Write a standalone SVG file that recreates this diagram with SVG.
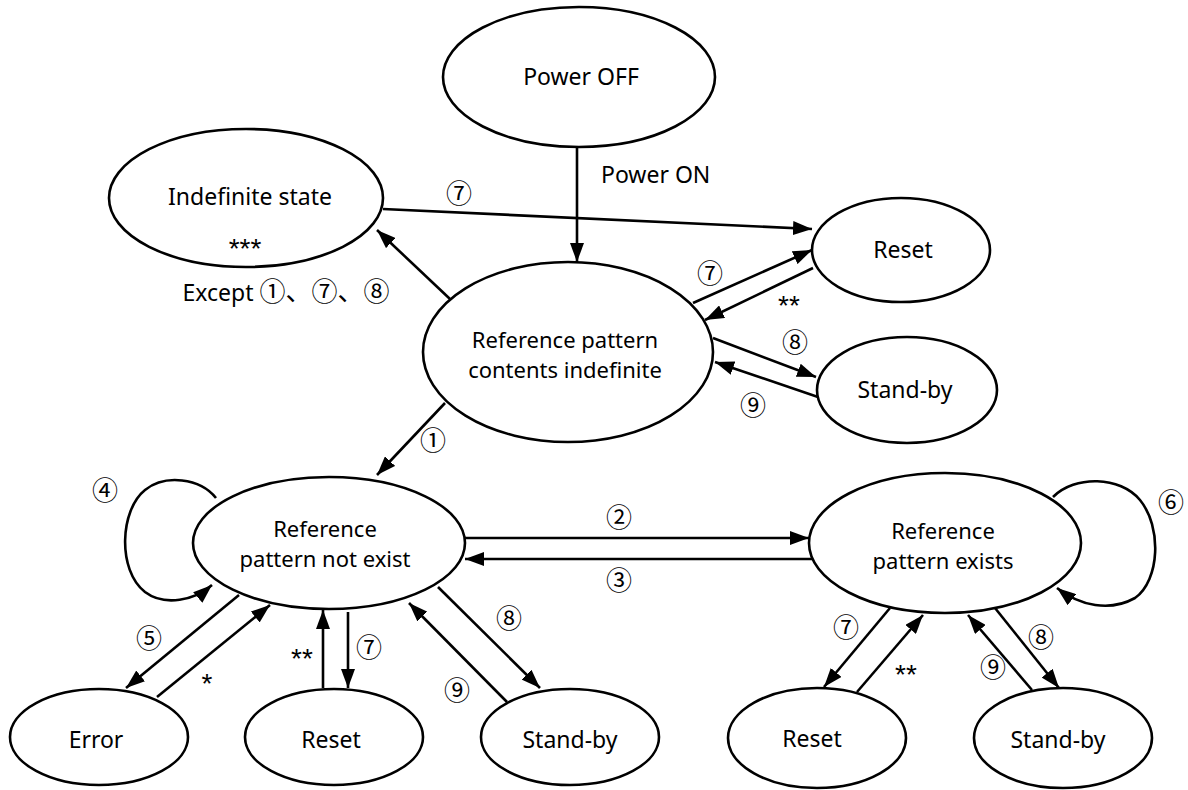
<svg xmlns="http://www.w3.org/2000/svg" width="1188" height="790" viewBox="0 0 1188 790">
  <style>
    .node { fill: #ffffff; stroke: #000000; stroke-width: 2.6; }
    .lbl { font-family: "Noto Sans", "Liberation Sans", "Noto Sans CJK JP", sans-serif; font-size: 23px; fill: #000; text-anchor: middle; }
    .two { font-size: 22px; }
    .edge { fill: none; stroke: #000; stroke-width: 2.6; marker-end: url(#head); }
    .num { font-family: "Noto Sans CJK JP", "DejaVu Sans", sans-serif; font-size: 26px; fill: #000; text-anchor: middle; }
    .star { font-family: "Liberation Sans", sans-serif; font-size: 28px; fill: #000; text-anchor: middle; }
  </style>
  <defs>
    <marker id="head" markerUnits="userSpaceOnUse" markerWidth="20" markerHeight="14" refX="19" refY="7" orient="auto">
      <path d="M0,0 L19,7 L0,14 z" fill="#000"/>
    </marker>
  </defs>
  <rect width="1188" height="790" fill="#ffffff"/>

  <!-- connectors -->
  <g id="connectors">
    <line class="edge" x1="577" y1="147" x2="577" y2="262"/>
    <line class="edge" x1="383" y1="209" x2="812" y2="229"/>
    <line class="edge" x1="450" y1="299" x2="377" y2="230"/>
    <line class="edge" x1="693" y1="303" x2="812" y2="250"/>
    <line class="edge" x1="813" y1="268" x2="705" y2="320"/>
    <line class="edge" x1="713" y1="338" x2="816" y2="377"/>
    <line class="edge" x1="818" y1="397" x2="715" y2="362"/>
    <line class="edge" x1="445" y1="403" x2="377" y2="475"/>
    <path class="edge" d="M216,498 C200,478 165,474 145,490 C120,510 117,570 145,592 C165,607 195,600 212,585"/>
    <line class="edge" x1="239" y1="595" x2="126" y2="688"/>
    <line class="edge" x1="157" y1="697" x2="270" y2="605"/>
    <line class="edge" x1="323" y1="688" x2="323" y2="610"/>
    <line class="edge" x1="348" y1="612" x2="348" y2="688"/>
    <line class="edge" x1="507" y1="702" x2="409" y2="603"/>
    <line class="edge" x1="438" y1="587" x2="540" y2="688"/>
    <line class="edge" x1="465" y1="538" x2="809" y2="538"/>
    <line class="edge" x1="813" y1="559" x2="465" y2="559"/>
    <path class="edge" d="M1053,497 C1075,475 1120,476 1140,500 C1162,527 1160,580 1135,598 C1110,612 1080,606 1057,588"/>
    <line class="edge" x1="890" y1="608" x2="824" y2="687"/>
    <line class="edge" x1="857" y1="692" x2="923" y2="615"/>
    <line class="edge" x1="1032" y1="690" x2="968" y2="615"/>
    <line class="edge" x1="995" y1="608" x2="1059" y2="688"/>

    <text class="lbl" x="601" y="183" style="text-anchor:start">Power ON</text>
    <text class="num" x="459" y="203">⑦</text>
    <text class="lbl" x="286" y="301">Except <tspan class="num">①、⑦、⑧</tspan></text>
    <text class="num" x="710" y="283">⑦</text>
    <text class="star" x="789" y="315">**</text>
    <text class="num" x="795" y="352">⑧</text>
    <text class="num" x="753" y="415">⑨</text>
    <text class="num" x="433" y="450">①</text>
    <text class="num" x="105" y="500">④</text>
    <text class="num" x="149" y="648">⑤</text>
    <text class="star" x="207" y="693">*</text>
    <text class="star" x="302" y="668">**</text>
    <text class="num" x="369" y="657">⑦</text>
    <text class="num" x="457" y="700">⑨</text>
    <text class="num" x="509" y="628">⑧</text>
    <text class="num" x="619" y="527">②</text>
    <text class="num" x="619" y="590">③</text>
    <text class="num" x="1171" y="512">⑥</text>
    <text class="num" x="846" y="637">⑦</text>
    <text class="star" x="906" y="684">**</text>
    <text class="num" x="993" y="677">⑨</text>
    <text class="num" x="1041" y="647">⑧</text>
  </g>

  <!-- states -->
  <g id="power-off">
    <ellipse class="node" cx="579" cy="77" rx="136" ry="70"/>
    <text class="lbl" x="581" y="85">Power OFF</text>
  </g>
  <g id="indefinite-state">
    <ellipse class="node" cx="246" cy="198" rx="137" ry="69"/>
    <text class="lbl" x="250" y="205">Indefinite state</text>
    <text class="star" x="245" y="258">***</text>
  </g>
  <g id="reset-top">
    <ellipse class="node" cx="901" cy="250" rx="89" ry="52"/>
    <text class="lbl" x="903" y="258">Reset</text>
  </g>
  <g id="standby-top">
    <ellipse class="node" cx="907" cy="390" rx="90" ry="53"/>
    <text class="lbl" x="905" y="398">Stand-by</text>
  </g>
  <g id="ref-indefinite">
    <ellipse class="node" cx="568" cy="352" rx="145" ry="90"/>
    <text class="lbl two" x="565" y="348">Reference pattern<tspan x="565" dy="30">contents indefinite</tspan></text>
  </g>
  <g id="ref-not-exist">
    <ellipse class="node" cx="329" cy="543" rx="136" ry="66"/>
    <text class="lbl two" x="325" y="537">Reference<tspan x="325" dy="30">pattern not exist</tspan></text>
  </g>
  <g id="ref-exists">
    <ellipse class="node" cx="945" cy="543" rx="136" ry="70"/>
    <text class="lbl two" x="943" y="539">Reference<tspan x="943" dy="30">pattern exists</tspan></text>
  </g>
  <g id="error">
    <ellipse class="node" cx="99" cy="737" rx="89" ry="48"/>
    <text class="lbl" x="96" y="748">Error</text>
  </g>
  <g id="reset-mid">
    <ellipse class="node" cx="334" cy="737" rx="89" ry="48"/>
    <text class="lbl" x="331" y="748">Reset</text>
  </g>
  <g id="standby-mid">
    <ellipse class="node" cx="570" cy="737" rx="89" ry="48"/>
    <text class="lbl" x="570" y="748">Stand-by</text>
  </g>
  <g id="reset-right">
    <ellipse class="node" cx="817" cy="738" rx="89" ry="50"/>
    <text class="lbl" x="812" y="747">Reset</text>
  </g>
  <g id="standby-right">
    <ellipse class="node" cx="1063" cy="738" rx="89" ry="50"/>
    <text class="lbl" x="1058" y="748">Stand-by</text>
  </g>
</svg>
